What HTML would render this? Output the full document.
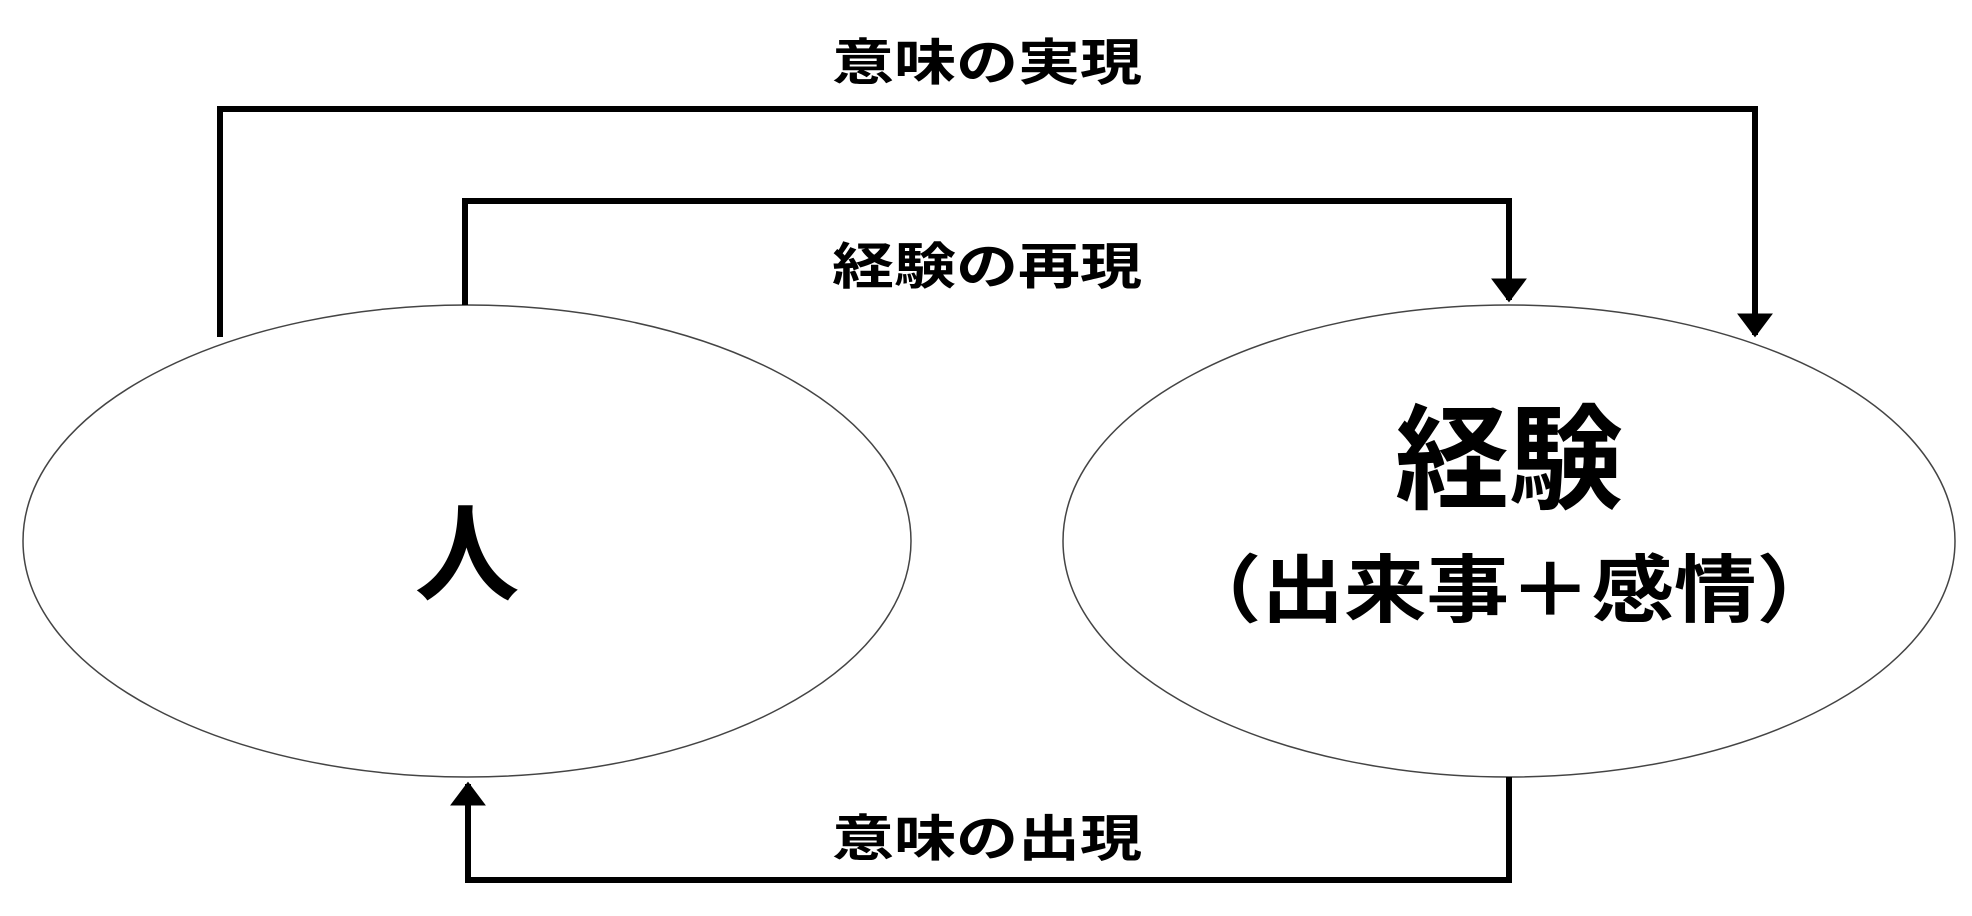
<!DOCTYPE html>
<html><head><meta charset="utf-8"><style>
html,body{margin:0;padding:0;background:#fff;}
svg{display:block;}
text{font-family:"Liberation Sans","Noto Sans CJK JP",sans-serif;fill:#000;}
</style></head><body>
<svg width="1972" height="916" viewBox="0 0 1972 916" xmlns="http://www.w3.org/2000/svg">
<defs>
<marker id="ah" markerWidth="4" markerHeight="6" refX="3.6" refY="3" orient="auto" markerUnits="strokeWidth">
<path d="M0,0 L4,3 L0,6 Z" fill="#000"/>
</marker>
</defs>
<ellipse cx="467" cy="541" rx="444" ry="236" fill="#fff" stroke="#444" stroke-width="1.5"/>
<ellipse cx="1509" cy="541" rx="446" ry="236" fill="#fff" stroke="#444" stroke-width="1.5"/>
<g fill="none" stroke="#000" stroke-width="6">
<polyline points="220,337 220,109 1755,109 1755,335" marker-end="url(#ah)"/>
<polyline points="465,305 465,201 1509,201 1509,300" marker-end="url(#ah)"/>
<polyline points="1509,777 1509,880 468,880 468,784" marker-end="url(#ah)"/>
</g>
<text x="987" y="80" font-size="50" font-weight="bold" text-anchor="middle" textLength="310" lengthAdjust="spacingAndGlyphs">意味の実現</text>
<text x="987" y="284" font-size="50" font-weight="bold" text-anchor="middle" textLength="310" lengthAdjust="spacingAndGlyphs">経験の再現</text>
<text x="987" y="856" font-size="50" font-weight="bold" text-anchor="middle" textLength="310" lengthAdjust="spacingAndGlyphs">意味の出現</text>
<text x="467" y="592" font-size="105" font-weight="bold" text-anchor="middle">人</text>
<text x="1509" y="500" font-size="114" font-weight="bold" text-anchor="middle">経験</text>
<text x="1509" y="616" font-size="74" font-weight="bold" text-anchor="middle" textLength="660" lengthAdjust="spacingAndGlyphs">（出来事＋感情）</text>
</svg>
</body></html>
